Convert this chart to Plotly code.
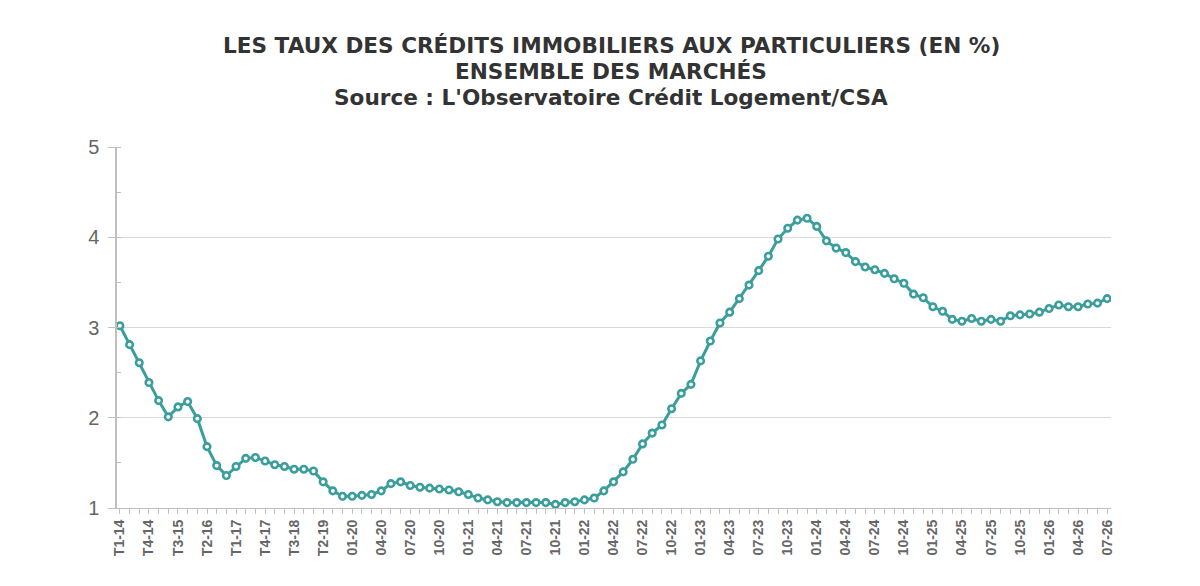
import plotly.graph_objs as go

# ---- données ----
# trimestriel T1-14 .. T4-19, puis mensuel 01-20 .. 07-26
labels_trim = [f"T{q}-{y}" for y in range(14, 20) for q in range(1, 5)]
labels_mois = [f"{m:02d}-{y}" for y in range(20, 27) for m in range(1, 13)][:79]
periodes = labels_trim + labels_mois

taux = [
    3.02, 2.81, 2.61, 2.39, 2.19, 2.01, 2.12, 2.18, 1.99, 1.68,
    1.47, 1.36, 1.46, 1.55, 1.56, 1.52, 1.48, 1.46, 1.43, 1.43,
    1.41, 1.29, 1.19, 1.13, 1.13, 1.14, 1.15, 1.19, 1.27, 1.29,
    1.25, 1.23, 1.22, 1.21, 1.20, 1.18, 1.15, 1.11, 1.09, 1.07,
    1.06, 1.06, 1.06, 1.06, 1.06, 1.04, 1.06, 1.07, 1.09, 1.11,
    1.19, 1.29, 1.40, 1.54, 1.71, 1.83, 1.92, 2.10, 2.27, 2.37,
    2.63, 2.85, 3.05, 3.17, 3.32, 3.47, 3.63, 3.79, 3.98, 4.10,
    4.19, 4.21, 4.12, 3.96, 3.88, 3.83, 3.73, 3.67, 3.64, 3.60,
    3.54, 3.49, 3.37, 3.33, 3.23, 3.18, 3.09, 3.07, 3.10, 3.07,
    3.09, 3.07, 3.13, 3.14, 3.15, 3.17, 3.21, 3.25, 3.23, 3.23,
    3.26, 3.27, 3.32,
]

titres = [
    "LES TAUX DES CRÉDITS IMMOBILIERS AUX PARTICULIERS (EN %)",
    "ENSEMBLE DES MARCHÉS",
    "Source : L'Observatoire Crédit Logement/CSA",
]

# une étiquette tous les 3 points
etiquettes = [p if i % 3 == 0 else "" for i, p in enumerate(periodes)]

COULEUR = '#3a9e9c'
GRIS = '#666666'

fig = go.Figure(go.Scatter(
    x=periodes,
    y=taux,
    mode='lines+markers',
    line=dict(color=COULEUR, width=3),
    marker=dict(symbol='circle', size=6.5, color='white',
                line=dict(color=COULEUR, width=2.6)),
    showlegend=False,
))

# titre sur trois lignes
for i, t in enumerate(titres):
    fig.add_annotation(
        text=t, xref='paper', yref='paper',
        x=0.497, y=1.2825 - i * 0.072, xanchor='center', yanchor='middle',
        showarrow=False,
        font=dict(family='DejaVu Sans', size=21.6, color='#333333', weight='bold'),
    )

fig.update_layout(
    width=1200, height=586,
    paper_bgcolor='white', plot_bgcolor='white',
    margin=dict(l=109, r=97, t=139, b=86),
    xaxis=dict(
        type='category',
        tickmode='array', tickvals=periodes, ticktext=etiquettes,
        range=[-0.3, len(periodes) - 1 + 0.4],
        tickangle=-90,
        ticks='outside', ticklen=5, tickcolor='#bfbfbf',
        tickfont=dict(family='Liberation Sans', size=14, color=GRIS, weight='bold'),
        showline=True, linecolor='#bfbfbf', linewidth=1,
        showgrid=False, zeroline=False,
    ),
    yaxis=dict(
        range=[1, 5], dtick=1,
        ticks='outside', ticklen=7, tickcolor='#bfbfbf',
        minor=dict(dtick=0.5, ticks='inside', ticklen=4, tickcolor='#bfbfbf', showgrid=False),
        tickfont=dict(family='Liberation Sans', size=20, color=GRIS),
        ticklabelstandoff=5,
        showline=True, linecolor='#bfbfbf', linewidth=1.5,
        showgrid=True, gridcolor='#d9d9d9', gridwidth=1,
        zeroline=False,
    ),
)

fig.write_html("out.html")
